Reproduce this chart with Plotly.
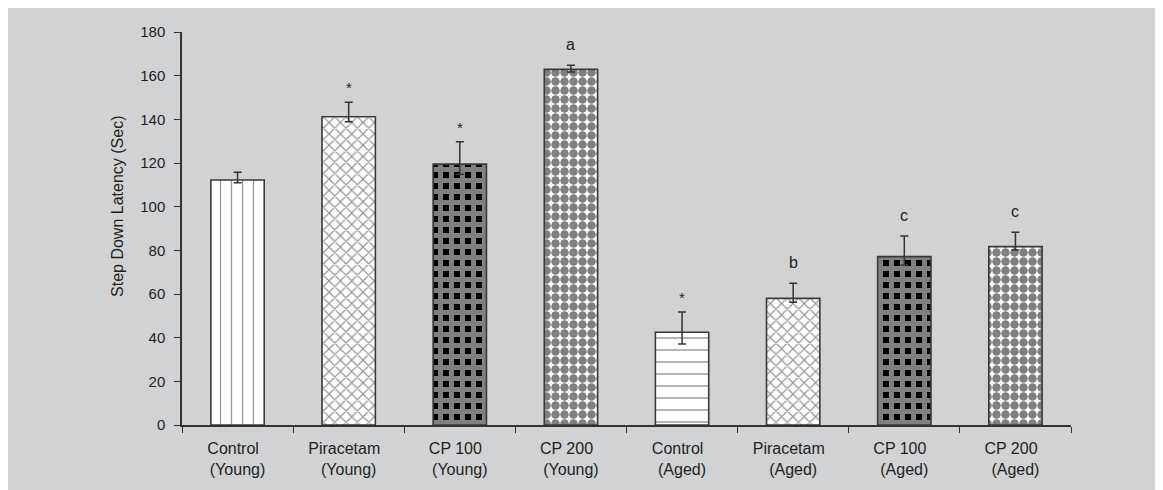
import plotly.graph_objects as go

# ---- data ----
groups = ["Control", "Piracetam", "CP 100", "CP 200", "Control", "Piracetam", "CP 100", "CP 200"]
ages = ["(Young)", "(Young)", "(Young)", "(Young)", "(Aged)", "(Aged)", "(Aged)", "(Aged)"]
latency = [112.2, 141.2, 119.5, 162.9, 42.5, 58.0, 77.1, 81.7]
err_plus = [3.6, 6.6, 10.2, 1.9, 9.2, 6.9, 9.5, 6.6]
err_minus = [1.2, 2.3, 4.7, 1.2, 5.4, 1.8, 3.8, 1.5]
sig_labels = ["", "*", "*", "a", "*", "b", "c", "c"]
y_ticks = [0, 20, 40, 60, 80, 100, 120, 140, 160, 180]

NB = "\u00a0"
categories = [f"{g}{NB}{NB}<br>{a}" for g, a in zip(groups, ages)]

TXT = "#231f20"
BG = "#d1d2d4"
FONT = "Liberation Sans, Arial, sans-serif"

pattern_styles = {
    "Control": dict(shape="|", fgcolor="#333333", bgcolor="white", size=11, solidity=0.12),
    "Piracetam": dict(shape="x", fgcolor="#2a2a2a", bgcolor="white", size=8, solidity=0.28),
    "CP 100": dict(shape="+", fgcolor="#ffffff", bgcolor="#000000", size=11, solidity=0.7),
    "CP 200": dict(shape=".", fgcolor="#000000", bgcolor="white", size=9, solidity=0.7),
}
aged_control = dict(shape="-", fgcolor="#333333", bgcolor="white", size=12, solidity=0.12)

patterns = []
for g, a in zip(groups, ages):
    if g == "Control" and a == "(Aged)":
        patterns.append(aged_control)
    else:
        patterns.append(pattern_styles[g])

fig = go.Figure()
for i, cat in enumerate(categories):
    fig.add_trace(go.Bar(
        x=[cat], y=[latency[i]], width=0.48,
        marker=dict(color="white", line=dict(color="#3a3a3a", width=1.6), pattern=patterns[i]),
        error_y=dict(type="data", symmetric=False, array=[err_plus[i]], arrayminus=[err_minus[i]],
                     color="#333333", thickness=1.5, width=4),
        showlegend=False, hoverinfo="skip",
    ))

for cat, v, e, lab in zip(categories, latency, err_plus, sig_labels):
    if lab:
        fig.add_annotation(x=cat, y=v + e, text=lab, showarrow=False, yanchor="bottom",
                           yshift=10 if lab != "*" else 4,
                           font=dict(family=FONT, size=16 if lab != "*" else 15, color=TXT))

# y-axis title as annotation (placed a bit above the centre, as in the original)
fig.add_annotation(xref="paper", yref="paper", x=-0.0726, y=0.556, text="Step Down Latency (Sec)",
                   textangle=-90, showarrow=False, xanchor="center", yanchor="middle",
                   font=dict(family=FONT, size=16, color=TXT))

fig.update_layout(
    width=1155, height=482,
    margin=dict(l=174, r=92, t=24, b=65),
    paper_bgcolor=BG, plot_bgcolor=BG,
    bargap=0.52,
    font=dict(family=FONT, color=TXT),
)
fig.update_xaxes(
    type="category", tickson="boundaries", ticks="outside", ticklen=6, tickwidth=1.3,
    tickcolor="#333333", showline=True, linecolor="#333333", linewidth=1.5,
    showgrid=False, tickfont=dict(family=FONT, size=16, color=TXT), ticklabelstandoff=8,
)
fig.update_yaxes(
    range=[0, 180], tickvals=y_ticks, ticks="outside", ticklen=6, tickwidth=1.3,
    tickcolor="#333333", showline=True, linecolor="#333333", linewidth=1.5,
    showgrid=False, zeroline=False, tickfont=dict(family=FONT, size=15, color=TXT),
    ticklabelstandoff=6,
)

fig.write_html("out.html")
